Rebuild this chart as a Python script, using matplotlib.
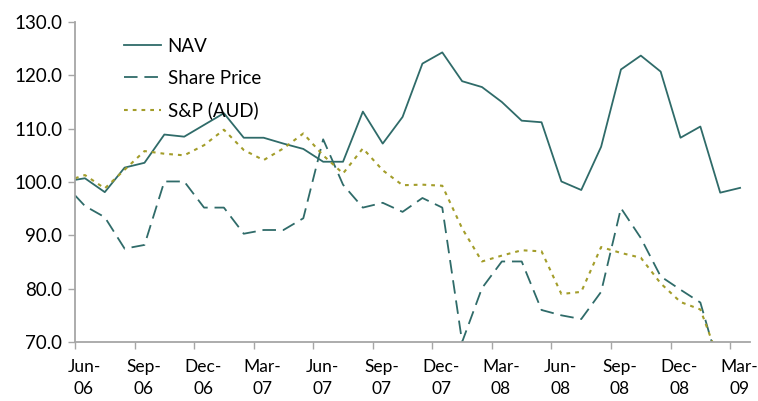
import matplotlib
matplotlib.use('Agg')
import matplotlib.pyplot as plt
from matplotlib.ticker import FixedLocator, FixedFormatter, FormatStrFormatter

plt.rcParams['font.family'] = ['Lato', 'DejaVu Sans']

# month positions counted from the Jun-06 tick
months = [0] + [0.5 + i for i in range(34)]

nav = [100.4, 100.7, 98.1, 102.7, 103.6, 108.9, 108.5, 110.7, 112.9, 108.3,
       108.3, 107.2, 106.2, 103.8, 103.8, 113.2, 107.2, 112.2, 122.2, 124.3,
       118.9, 117.8, 115.0, 111.5, 111.2, 100.1, 98.5, 106.6, 121.1, 123.7,
       120.7, 108.3, 110.4, 98.0, 98.9]

share_price = [97.5, 95.5, 93.4, 87.5, 88.2, 100.1, 100.1, 95.2, 95.2, 90.3,
               91.0, 91.0, 93.2, 108.0, 99.5, 95.2, 96.1, 94.4, 97.0, 95.2,
               70.0, 80.1, 85.1, 85.1, 76.0, 75.0, 74.3, 79.4, 95.1, 89.5,
               82.3, 79.8, 77.4, 64.5, 63.0]

sp_aud = [100.7, 101.3, 98.8, 102.3, 105.8, 105.3, 105.0, 106.9, 109.8, 106.0,
          104.1, 106.3, 109.1, 105.0, 101.6, 106.3, 102.2, 99.4, 99.5, 99.3,
          91.3, 85.1, 86.2, 87.2, 87.0, 79.0, 79.4, 87.8, 86.7, 85.8,
          81.0, 77.5, 76.1, 66.0, 64.0]

tick_labels = ['Jun-\n06', 'Sep-\n06', 'Dec-\n06', 'Mar-\n07', 'Jun-\n07', 'Sep-\n07',
               'Dec-\n07', 'Mar-\n08', 'Jun-\n08', 'Sep-\n08', 'Dec-\n08', 'Mar-\n09']

teal = '#2f6b69'
olive = '#a39d2a'
grey = '#a6a6a6'

fig = plt.figure(figsize=(7.58, 4.01), dpi=100)
ax = fig.add_axes([75 / 758, 1 - 342 / 401, 675 / 758, 320 / 401])

ax.plot(months, nav, color=teal, lw=1.3, label='NAV')
ax.plot(months, share_price, color=teal, lw=1.3, ls=(0, (7.5, 3.8)), label='Share Price')
ax.plot(months, sp_aud, color=olive, lw=1.5, ls=(0, (1.8, 2.4)), label='S&P (AUD)')

ax.set_xlim(0, 34)
ax.set_ylim(70, 130)
ax.set_yticks([70, 80, 90, 100, 110, 120, 130])
ax.yaxis.set_major_formatter(FormatStrFormatter('%.1f'))

ax.xaxis.set_major_locator(FixedLocator([3 * i for i in range(12)]))
ax.xaxis.set_major_formatter(FixedFormatter([''] * 12))
ax.xaxis.set_minor_locator(FixedLocator([3 * i + 0.45 for i in range(12)]))
ax.xaxis.set_minor_formatter(FixedFormatter(tick_labels))

for s in ['top', 'right']:
    ax.spines[s].set_visible(False)
for s in ['left', 'bottom']:
    ax.spines[s].set_color(grey)
    ax.spines[s].set_linewidth(1.3)

ax.tick_params(axis='both', which='major', color=grey, length=5, width=1, labelsize=13.5)
ax.tick_params(axis='y', pad=4)
ax.tick_params(axis='x', which='minor', length=0, pad=12, labelsize=12.5)
for lbl in ax.xaxis.get_minorticklabels():
    lbl.set_linespacing(1.5)

leg = ax.legend(loc='upper left', bbox_to_anchor=(0.072, 0.95), frameon=False,
                fontsize=13.5, handlelength=2.0, handletextpad=0.35,
                labelspacing=0.78, borderpad=0, borderaxespad=0)

fig.savefig('out.png', dpi=100)
